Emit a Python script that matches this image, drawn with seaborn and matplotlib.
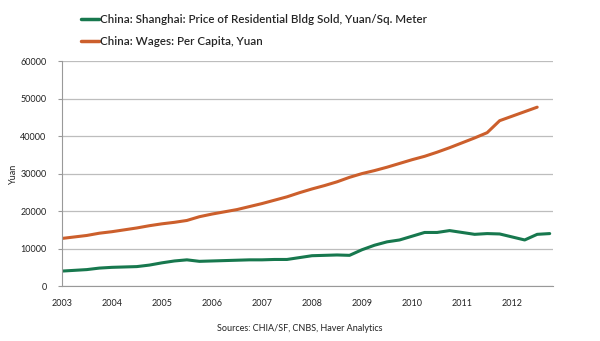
import matplotlib
matplotlib.use("Agg")
import matplotlib.pyplot as plt
import seaborn as sns
import pandas as pd
import numpy as np

years_green = [2003.00, 2003.25, 2003.50, 2003.75, 2004.00, 2004.25, 2004.50, 2004.75,
               2005.00, 2005.25, 2005.50, 2005.75, 2006.00, 2006.25, 2006.50, 2006.75,
               2007.00, 2007.25, 2007.50, 2007.75, 2008.00, 2008.25, 2008.50, 2008.75,
               2009.00, 2009.25, 2009.50, 2009.75, 2010.00, 2010.25, 2010.50, 2010.75,
               2011.00, 2011.25, 2011.50, 2011.75, 2012.00, 2012.25, 2012.50, 2012.75]
price_shanghai = [4000, 4200, 4400, 4800, 5000, 5100, 5200, 5600,
                  6200, 6700, 7000, 6600, 6700, 6800, 6900, 7000,
                  7000, 7100, 7100, 7600, 8100, 8200, 8300, 8200,
                  9700, 10900, 11800, 12300, 13300, 14300, 14300, 14800,
                  14300, 13800, 14000, 13900, 13100, 12300, 13800, 14000]

years_orange = years_green[:-1]
wages = [12700, 13100, 13500, 14100, 14500, 15000, 15500, 16100,
         16600, 17000, 17500, 18500, 19200, 19800, 20400, 21200,
         22000, 22900, 23800, 24900, 25900, 26800, 27800, 29000,
         30000, 30800, 31700, 32700, 33700, 34600, 35700, 36900,
         38200, 39500, 40900, 44100, 45300, 46500, 47700]

series_names = ["China: Shanghai: Price of Residential Bldg Sold, Yuan/Sq. Meter",
                "China: Wages: Per Capita, Yuan"]
xtick_labels = ["2003", "2004", "2005", "2006", "2007", "2008", "2009", "2010", "2011", "2012"]
yticks = [0, 10000, 20000, 30000, 40000, 50000, 60000]

df = pd.concat([
    pd.DataFrame({"year": years_green, "value": price_shanghai, "series": series_names[0]}),
    pd.DataFrame({"year": years_orange, "value": wages, "series": series_names[1]}),
])

sns.set_theme(style="white")
plt.rcParams['font.family'] = ['Lato', 'DejaVu Sans']

fig = plt.figure(figsize=(6, 3.41), dpi=100)
ax = fig.add_axes([0.103, 0.161, 0.819, 0.66])

palette = {series_names[0]: "#17784e", series_names[1]: "#cc5f2c"}
sns.lineplot(data=df, x="year", y="value", hue="series", palette=palette,
             linewidth=2.2, ax=ax, legend=False)

ax.set_xlim(2003, 2012.82)
ax.set_ylim(0, 60000)
ax.set_yticks(yticks)
ax.set_yticklabels([str(v) for v in yticks], fontsize=6.5, color="#222222")
ax.set_xticks([int(x) for x in xtick_labels])
ax.set_xticklabels(xtick_labels, fontsize=6.5, color="#222222")
ax.tick_params(axis="x", length=0, pad=9)
ax.tick_params(axis="y", length=3, width=0.8, color="#999999", pad=8, left=True)
ax.yaxis.grid(True, color="#bdbdbd", linewidth=0.9)
ax.set_axisbelow(True)
for s in ["top", "right"]:
    ax.spines[s].set_visible(False)
ax.spines["left"].set_color("#999999")
ax.spines["bottom"].set_color("#999999")
ax.spines["left"].set_linewidth(0.8)
ax.spines["bottom"].set_linewidth(0.8)
ax.set_xlabel("")
ax.set_ylabel("Yuan", fontsize=6.5, color="#222222")
ax.yaxis.set_label_coords(-0.09, 0.5)

from matplotlib.lines import Line2D
handles = [Line2D([0], [0], color=palette[n], lw=2.5) for n in series_names]
fig.legend(handles, series_names, loc="upper left", bbox_to_anchor=(0.118, 0.99),
           frameon=False, handlelength=1.5, handletextpad=0.1,
           labelspacing=0.95, prop={"family": "Lato", "size": 8.4, "weight": "semibold"})

fig.text(0.5, 0.03, "Sources: CHIA/SF, CNBS, Haver Analytics", ha="center",
         fontsize=6.5, color="#222222")

fig.savefig("out.png", dpi=100)
